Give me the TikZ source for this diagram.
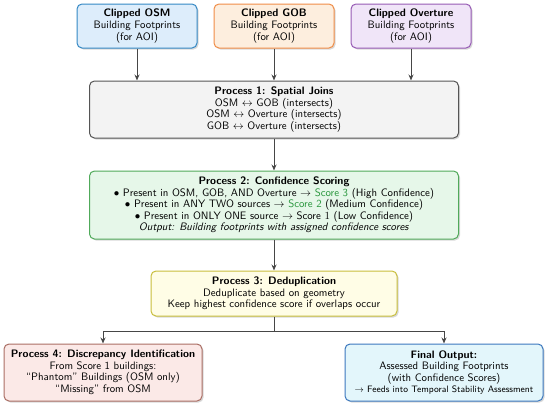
\documentclass[tikz,border=0pt]{standalone}
\usepackage{amsmath,amssymb}
\usepackage{xcolor}
\definecolor{osmLine}{RGB}{52,136,196}
\definecolor{osmFill}{RGB}{221,237,251}
\definecolor{gobLine}{RGB}{240,140,70}
\definecolor{gobFill}{RGB}{253,238,222}
\definecolor{ovtLine}{RGB}{150,90,180}
\definecolor{ovtFill}{RGB}{240,229,248}
\definecolor{procLine}{RGB}{85,85,85}
\definecolor{procFill}{RGB}{243,243,243}
\definecolor{scoreLine}{RGB}{80,170,90}
\definecolor{scoreFill}{RGB}{230,247,233}
\definecolor{scoreGreen}{RGB}{40,150,60}
\definecolor{dedupLine}{RGB}{200,190,60}
\definecolor{dedupFill}{RGB}{255,253,230}
\definecolor{discLine}{RGB}{170,110,100}
\definecolor{discFill}{RGB}{251,233,231}
\definecolor{finLine}{RGB}{60,120,190}
\definecolor{finFill}{RGB}{227,246,251}
\definecolor{arrowGray}{RGB}{70,70,70}
\usepackage{tikz}
\usetikzlibrary{positioning,arrows.meta,shadows,calc}
\tikzset{
  block/.style 2 args={rectangle,draw=#1,fill=#2,line width=1pt,
    rounded corners=5pt,align=center,inner sep=3pt,
    drop shadow={shadow xshift=1.5pt,shadow yshift=-1.5pt,fill=black!30}},
  src/.style 2 args={block={#1}{#2},minimum width=120pt,minimum height=44pt},
  arrow/.style={-{Stealth[length=6pt,width=5pt]},draw=arrowGray,line width=1pt},
  link/.style={draw=arrowGray,line width=1pt}
}

\begin{document}
\begin{tikzpicture}[x=1pt,y=1pt,node distance=32pt and 16pt,
    font=\sffamily\fontsize{10.8}{11.6}\selectfont]
  \useasboundingbox (0,0) rectangle (550,-407);

  % sources
  \node[src={gobLine}{gobFill}] (gob) at (274,-26)
    {\textbf{Clipped GOB}\\Building Footprints\\(for AOI)};
  \node[src={osmLine}{osmFill}, left=16pt of gob] (osm)
    {\textbf{Clipped OSM}\\Building Footprints\\(for AOI)};
  \node[src={ovtLine}{ovtFill}, right=16pt of gob] (ovt)
    {\textbf{Clipped Overture}\\Building Footprints\\(for AOI)};

  % processing chain
  \node[block={procLine}{procFill}, minimum width=369pt, minimum height=57pt, below=32pt of gob] (join)
    {\textbf{Process 1: Spatial Joins}\\
     OSM $\leftrightarrow$ GOB (intersects)\\
     OSM $\leftrightarrow$ Overture (intersects)\\
     GOB $\leftrightarrow$ Overture (intersects)};

  \node[block={scoreLine}{scoreFill}, minimum width=369pt, minimum height=68pt, below=32pt of join] (score)
    {\textbf{Process 2: Confidence Scoring}\\
     $\bullet$ Present in OSM, GOB, AND Overture $\rightarrow$ \textcolor{scoreGreen}{Score 3} (High Confidence)\\
     $\bullet$ Present in ANY TWO sources $\rightarrow$ \textcolor{scoreGreen}{Score 2} (Medium Confidence)\\
     $\bullet$ Present in ONLY ONE source $\rightarrow$ Score $1$ (Low Confidence)\\
     \textit{Output: Building footprints with assigned confidence scores}};

  \node[block={dedupLine}{dedupFill}, minimum width=246pt, minimum height=45pt, below=31pt of score] (dedup)
    {\textbf{Process 3: Deduplication}\\
     Deduplicate based on geometry\\
     Keep highest confidence score if overlaps occur};

  \coordinate[below=15pt of dedup] (split);

  % outcomes
  \node[block={discLine}{discFill}, minimum width=198pt, minimum height=57pt] (disc) at (103,-372.5)
    {\textbf{Process 4: Discrepancy Identification}\\
     From Score 1 buildings:\\
     ``Phantom'' Buildings (OSM only)\\
     ``Missing'' from OSM};
  \node[block={finLine}{finFill}, minimum width=198pt, minimum height=57pt] (final) at (444,-372.5)
    {\textbf{Final Output:}\\
     Assessed Building Footprints\\
     (with Confidence Scores)\\
     {\fontsize{9.3}{11}\selectfont $\rightarrow$ Feeds into Temporal Stability Assessment}};

  \foreach \s in {osm,gob,ovt}
    \draw[arrow] (\s.south) -- (\s.south |- join.north);
  \draw[arrow] (join) -- (score);
  \draw[arrow] (score) -- (dedup);
  \draw[link] (dedup.south) -- (split);
  \draw[arrow] (split) -| (disc.north);
  \draw[arrow] (split) -| (final.north);
\end{tikzpicture}
\end{document}
